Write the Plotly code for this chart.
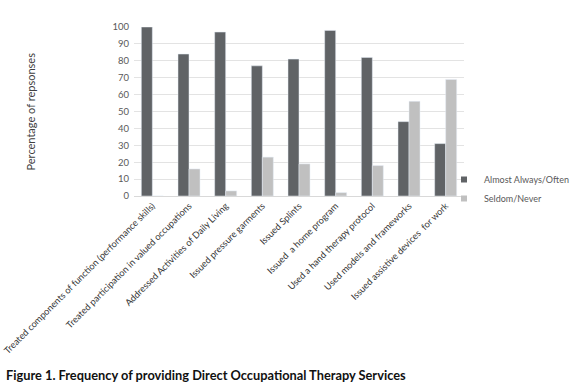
import plotly.graph_objects as go

categories = [
    "Treated components of function (performance skills)",
    "Treated participation in valued occupations",
    "Addressed Activities of Daily Living",
    "Issued pressure garments",
    "Issued Splints",
    "Issued  a home program",
    "Used a hand therapy protocol",
    "Used models and frameworks",
    "Issued assistive devices  for work",
]
almost_always = [100, 84, 97, 77, 81, 98, 82, 44, 31]
seldom_never = [0, 16, 3, 23, 19, 2, 18, 56, 69]
y_ticks = list(range(0, 101, 10))

DARK = "#606366"
LIGHT = "#c0c0c0"
FONT = "Lato"

fig = go.Figure()
fig.add_trace(go.Bar(x=categories, y=almost_always, name="Almost Always/Often",
                     marker_color=DARK, showlegend=False))
fig.add_trace(go.Bar(x=categories, y=seldom_never, name="Seldom/Never",
                     marker_color=LIGHT, showlegend=False))
# legend proxies with small square markers
fig.add_trace(go.Scatter(x=[None], y=[None], mode="markers", name="Almost Always/Often",
                         marker=dict(symbol="square", size=6, color=DARK)))
fig.add_trace(go.Scatter(x=[None], y=[None], mode="markers", name="Seldom/Never",
                         marker=dict(symbol="square", size=6, color=LIGHT)))

W, H = 573, 387
L, R, T, B = 134, 464, 27, 196

fig.update_layout(
    width=W, height=H,
    margin=dict(l=L, r=W - R, t=T, b=H - B, pad=0, autoexpand=False),
    paper_bgcolor="white", plot_bgcolor="white",
    barmode="group", bargap=0.4, bargroupgap=0,
    font=dict(family=FONT, size=9, color="#404040"),
    legend=dict(x=(444 - L) / (R - L), y=(196 - 165) / (B - T), xanchor="left", yanchor="top",
                font=dict(family=FONT, size=9, color="#595959"),
                borderwidth=0,
                tracegroupgap=0, itemwidth=30, bgcolor="rgba(0,0,0,0)"),
    xaxis=dict(tickangle=-45, showgrid=False, showline=True, linecolor="#d9d9d9",
               ticks="", tickfont=dict(family=FONT, size=9.2, color="#333333"),
               fixedrange=True, automargin=False),
    yaxis=dict(range=[0, 100], tickvals=y_ticks, showgrid=True, gridcolor="#e3e3e3",
               zeroline=False, showline=False, ticks="", ticklabelstandoff=4,
               automargin=False,
               tickfont=dict(family=FONT, size=9.5, color="#595959")),
    annotations=[
        dict(text="Percentage of repsonses", xref="paper", yref="paper",
             x=(30 - L) / (R - L), y=0.5, xanchor="center", yanchor="middle",
             textangle=-90, showarrow=False,
             font=dict(family=FONT, size=11, color="#404040")),
        dict(text="<b>Figure 1. Frequency of providing Direct Occupational Therapy Services</b>",
             xref="paper", yref="paper",
             x=(4 - L) / (R - L), y=(B - 375) / (B - T), xanchor="left", yanchor="middle",
             showarrow=False, font=dict(family=FONT, size=12.8, color="#111111")),
    ],
)

fig.write_html("out.html", config={"displayModeBar": False},
               post_script="document.body.style.margin='0';")
